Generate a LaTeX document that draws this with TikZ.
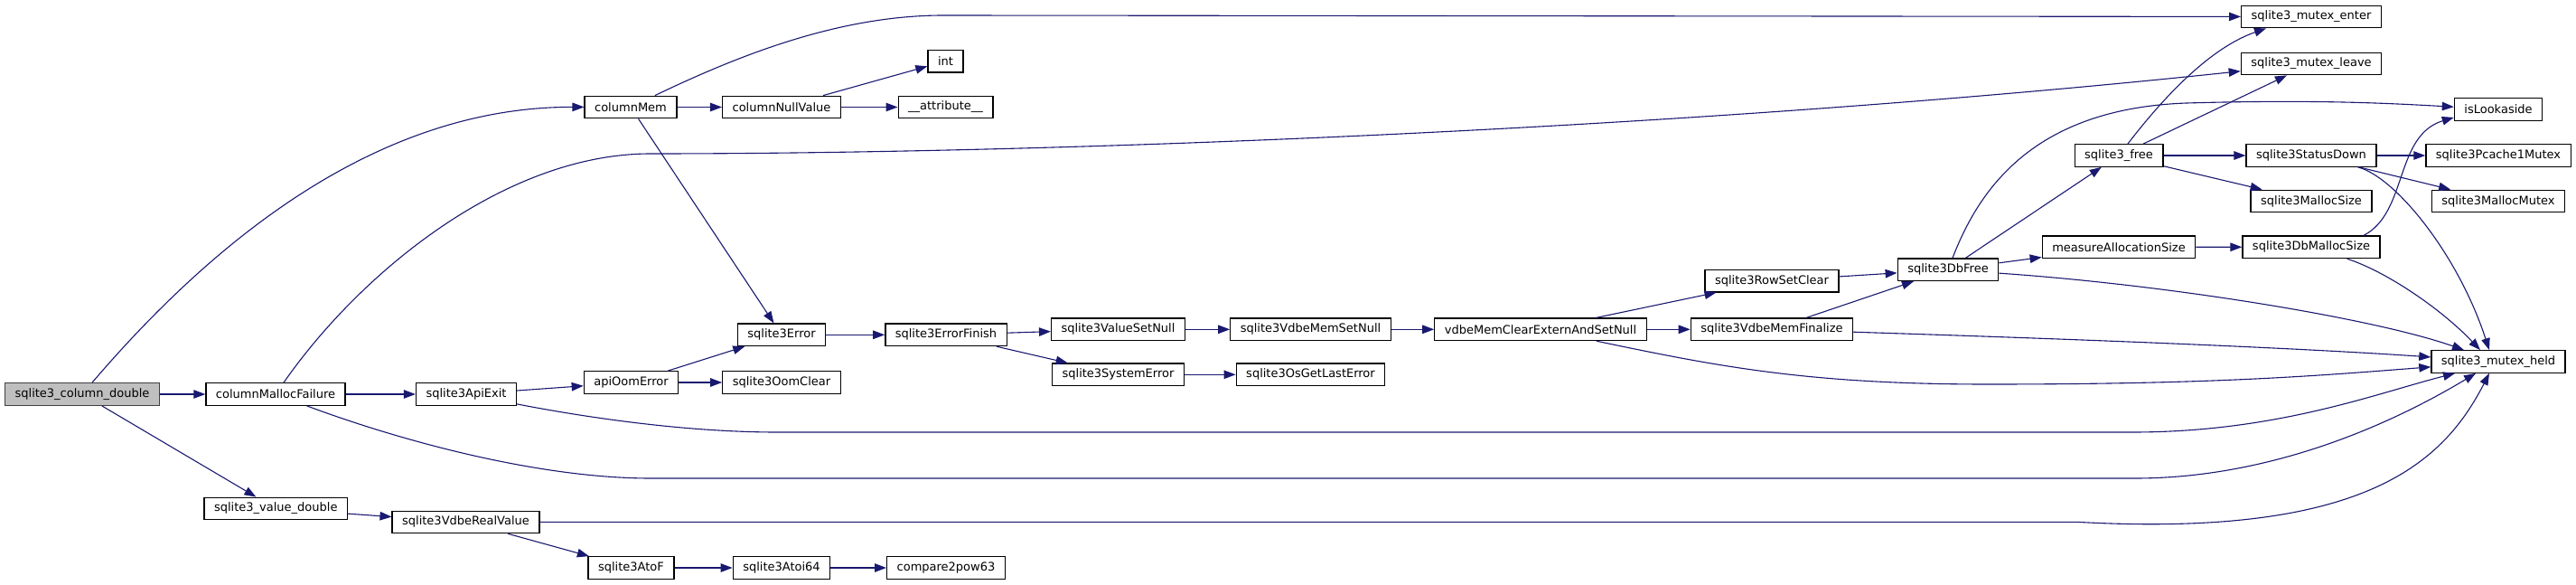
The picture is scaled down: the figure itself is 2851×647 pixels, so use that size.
\documentclass[tikz,border=0pt]{standalone}
\usepackage{fontspec}
\setmainfont{DejaVu Sans}
\usepackage{tikz}
\usetikzlibrary{arrows.meta,positioning}
\definecolor{MidnightBlue}{HTML}{191970}
\definecolor{Grey75}{HTML}{BFBFBF}
\definecolor{Grey25}{HTML}{404040}
\tikzset{
    every node/.style={font=\fontsize{13}{15}\selectfont},
    fnbox/.style={
        draw=black, fill=white, line width=1.3pt,
        minimum height=24.5pt, inner xsep=11pt, inner ysep=0pt,
        sharp corners, text=black
    },
    rootbox/.style={
        fnbox, draw=Grey25, fill=Grey75
    },
    callarrow/.style={
        -{Triangle[length=13pt,width=9.5pt]}, line width=1.1pt, color=MidnightBlue
    },
}

\begin{document}
\begin{tikzpicture}[x=1pt, y=-1pt]
    \useasboundingbox (0,0) rectangle (2851,647);

    % Caller and first level
    \node[rootbox] (root) at (91,436) {sqlite3\_column\_double};
    \node[fnbox] (mallocfail) at (305,436) {columnMallocFailure};
    \node[fnbox] (vdouble) at (305.3,562.5) {sqlite3\_value\_double};

    % Second level
    \node[fnbox] (apiexit) at (516,436) {sqlite3ApiExit};
    \node[fnbox] (realvalue) at (515.5,577.4) {sqlite3VdbeRealValue};
    \node[fnbox] (colmem) at (698,118.5) {columnMem};
    \node[fnbox] (apioom) at (698.5,423) {apiOomError};
    \node[fnbox] (atof) at (698.5,628) {sqlite3AtoF};

    % Middle columns
    \node[fnbox] (colnull) at (865,118.5) {columnNullValue};
    \node[fnbox] (serror) at (865,370.3) {sqlite3Error};
    \node[fnbox] (oomclear) at (865,423) {sqlite3OomClear};
    \node[fnbox] (atoi) at (865,628) {sqlite3Atoi64};
    \node[fnbox] (intfn) at (1046.5,67.7) {int};
    \node[fnbox] (attrib) at (1046.5,118.5) {\_\_attribute\_\_};
    \node[fnbox] (errfinish) at (1047,370.3) {sqlite3ErrorFinish};
    \node[fnbox] (cmppow) at (1047,628) {compare2pow63};
    \node[fnbox] (valsetnull) at (1237.5,364.3) {sqlite3ValueSetNull};
    \node[fnbox] (syserr) at (1237.5,414.3) {sqlite3SystemError};
    \node[fnbox] (vmsetnull) at (1450.5,364.3) {sqlite3VdbeMemSetNull};
    \node[fnbox] (oslasterr) at (1450.5,414.3) {sqlite3OsGetLastError};
    \node[fnbox] (vmclear) at (1705,364.3) {vdbeMemClearExternAndSetNull};
    \node[fnbox] (rowset) at (1961,310.6) {sqlite3RowSetClear};
    \node[fnbox] (vmfinal) at (1961,364.3) {sqlite3VdbeMemFinalize};

    % Memory helpers
    \node[fnbox] (dbfree) at (2156,298.3) {sqlite3DbFree};
    \node[fnbox] (sfree) at (2345,172) {sqlite3\_free};
    \node[fnbox] (measure) at (2345,273.2) {measureAllocationSize};
    \node[fnbox] (menter) at (2558,18.5) {sqlite3\_mutex\_enter};
    \node[fnbox] (mleave) at (2558,70.5) {sqlite3\_mutex\_leave};
    \node[fnbox] (statdown) at (2558,172) {sqlite3StatusDown};
    \node[fnbox] (msize) at (2558,222.5) {sqlite3MallocSize};
    \node[fnbox] (dbmsize) at (2558,273.3) {sqlite3DbMallocSize};
    \node[fnbox] (islook) at (2765,121) {isLookaside};
    \node[fnbox] (pcache) at (2765,172) {sqlite3Pcache1Mutex};
    \node[fnbox] (mmutex) at (2765,222.5) {sqlite3MallocMutex};
    \node[fnbox] (mheld) at (2765,400) {sqlite3\_mutex\_held};

    % Calls from sqlite3_column_double
    \draw[callarrow] (root) .. controls (250,250) and (430,118) .. (colmem);
    \draw[callarrow] (root) -- (mallocfail);
    \draw[callarrow] (root) -- (vdouble);

    % Calls from columnMallocFailure
    \draw[callarrow] (mallocfail) .. controls (400,300) and (560,170) .. (720,170)
        .. controls (1200,170) and (1900,140) .. (mleave);
    \draw[callarrow] (mallocfail) -- (apiexit);
    \draw[callarrow] (mallocfail) .. controls (450,490) and (600,529) .. (720,529) -- (2363,529)
        .. controls (2500,529) and (2630,479) .. ([xshift=-25pt]mheld.south);

    % Calls from columnMem and columnNullValue
    \draw[callarrow] (colmem) .. controls (820,60) and (930,17) .. (1044,17) -- (menter);
    \draw[callarrow] (colmem) -- (colnull);
    \draw[callarrow] (colmem) -- (serror);
    \draw[callarrow] (colnull) -- (intfn);
    \draw[callarrow] (colnull) -- (attrib);

    % Error path
    \draw[callarrow] (apiexit) -- (apioom);
    \draw[callarrow] (apiexit) .. controls (650,462) and (760,478) .. (860,478) -- (2360,478)
        .. controls (2520,478) and (2630,435) .. ([xshift=-48pt]mheld.south);
    \draw[callarrow] (apioom) -- (serror);
    \draw[callarrow] (apioom) -- (oomclear);
    \draw[callarrow] (serror) -- (errfinish);
    \draw[callarrow] (errfinish) -- (valsetnull);
    \draw[callarrow] (errfinish) -- (syserr);
    \draw[callarrow] (valsetnull) -- (vmsetnull);
    \draw[callarrow] (syserr) -- (oslasterr);
    \draw[callarrow] (vmsetnull) -- (vmclear);

    % vdbeMemClearExternAndSetNull and below
    \draw[callarrow] (vmclear) -- (rowset);
    \draw[callarrow] (vmclear) -- (vmfinal);
    \draw[callarrow] (vmclear) .. controls (1900,405) and (2000,425) .. (2200,425)
        .. controls (2450,425) and (2560,416) .. (mheld);
    \draw[callarrow] (rowset) -- (dbfree);
    \draw[callarrow] (vmfinal) -- (dbfree);
    \draw[callarrow] (vmfinal) .. controls (2200,372) and (2500,382) .. (mheld);

    % sqlite3DbFree
    \draw[callarrow] (dbfree) .. controls (2190,210) and (2250,120) .. (2420,114)
        .. controls (2560,110) and (2640,114) .. (islook);
    \draw[callarrow] (dbfree) -- (sfree);
    \draw[callarrow] (dbfree) -- (measure);
    \draw[callarrow] (dbfree) .. controls (2400,315) and (2627,352) .. ([xshift=-38pt]mheld.north);

    % sqlite3_free
    \draw[callarrow] (sfree) .. controls (2385,120) and (2440,55) .. ([xshift=-50pt]menter.south);
    \draw[callarrow] (sfree) -- (mleave);
    \draw[callarrow] (sfree) -- (statdown);
    \draw[callarrow] (sfree) -- (msize);

    % sqlite3StatusDown
    \draw[callarrow] (statdown) -- (pcache);
    \draw[callarrow] (statdown) -- (mmutex);
    \draw[callarrow] (statdown) .. controls (2650,195) and (2720,280) .. ([xshift=-10pt]mheld.north);

    % measureAllocationSize and sqlite3DbMallocSize
    \draw[callarrow] (measure) -- (dbmsize);
    \draw[callarrow] ([xshift=58pt]dbmsize.north) .. controls (2665,235) and (2650,150) .. ([yshift=4pt]islook.south west);
    \draw[callarrow] (dbmsize) .. controls (2640,300) and (2700,340) .. ([xshift=-20pt]mheld.north);

    % sqlite3_value_double chain
    \draw[callarrow] (vdouble) -- (realvalue);
    \draw[callarrow] (realvalue) -- (atof);
    \draw[callarrow] (realvalue) -- (2300,577.4)
        .. controls (2620,595) and (2705,510) .. ([xshift=-10pt]mheld.south);
    \draw[callarrow] (atof) -- (atoi);
    \draw[callarrow] (atoi) -- (cmppow);
\end{tikzpicture}
\end{document}
